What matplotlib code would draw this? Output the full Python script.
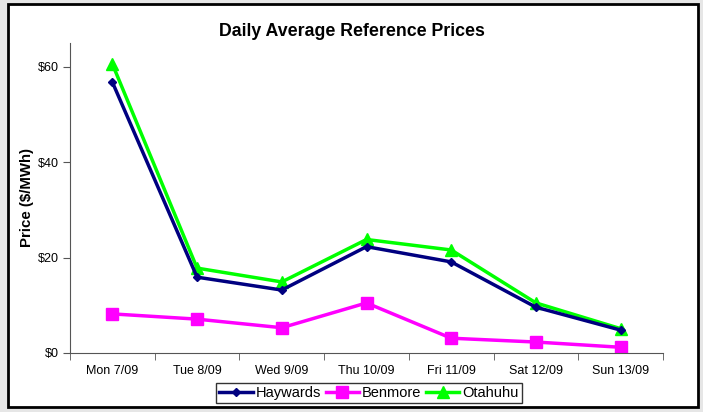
import matplotlib.pyplot as plt
from matplotlib.patches import Rectangle
from matplotlib.ticker import FuncFormatter

plt.rcParams['font.family'] = ['Liberation Sans', 'DejaVu Sans']

days = ['Mon 7/09', 'Tue 8/09', 'Wed 9/09', 'Thu 10/09', 'Fri 11/09', 'Sat 12/09', 'Sun 13/09']
haywards = [56.8, 15.9, 13.2, 22.3, 19.1, 9.6, 4.8]
benmore = [8.2, 7.1, 5.3, 10.5, 3.1, 2.3, 1.2]
otahuhu = [60.6, 17.8, 14.9, 23.8, 21.6, 10.5, 5.1]

W, H = 703, 412
fig = plt.figure(figsize=(W / 100, H / 100), dpi=100)
fig.patch.set_facecolor('#e6e6e6')

# white chart area with black border
fig.patches.append(Rectangle((8 / W, 1 - 407 / H), 690 / W, 403 / H,
                             transform=fig.transFigure, facecolor='white',
                             edgecolor='black', linewidth=2, zorder=-1))

ax = fig.add_axes([70 / W, 1 - 353 / H, 593 / W, 310 / H])
ax.set_zorder(2)
ax.set_facecolor('none')

x = range(len(days))
ax.plot(x, haywards, color='#000080', lw=2.5, marker='D', ms=4, label='Haywards', zorder=3)
ax.plot(x, benmore, color='#ff00ff', lw=2.5, marker='s', ms=9, label='Benmore', zorder=2)
ax.plot(x, otahuhu, color='#00ff00', lw=2.5, marker='^', ms=9, label='Otahuhu', zorder=2)

ax.set_xlim(-0.5, len(days) - 0.5)
ax.set_ylim(0, 65)
ax.set_yticks([0, 20, 40, 60])
ax.yaxis.set_major_formatter(FuncFormatter(lambda v, p: f'${v:.0f}'))
ax.set_xticks(x)
ax.set_xticklabels(days)
ax.set_xticks([i - 0.5 for i in range(len(days) + 1)], minor=True)
ax.tick_params(axis='x', which='major', length=0, pad=9, labelsize=9)
ax.tick_params(axis='x', which='minor', length=5, color='#555555')
ax.tick_params(axis='y', length=5, labelsize=9, color='#555555', pad=3)

for s in ['top', 'right']:
    ax.spines[s].set_visible(False)
for s in ['left', 'bottom']:
    ax.spines[s].set_color('#555555')

ax.set_ylabel('Price ($/MWh)', fontsize=10.8, fontweight='bold', labelpad=3)
fig.text(352 / W, 1 - 32 / H, 'Daily Average Reference Prices', ha='center', va='center',
         fontsize=12.8, fontweight='bold')

leg = fig.legend(loc='center', bbox_to_anchor=(369 / W, 1 - 393 / H), ncol=3,
                 frameon=True, fancybox=False, fontsize=10.5, handlelength=2.3,
                 handletextpad=0.2, columnspacing=0.3, borderpad=0.2, borderaxespad=0)
leg.get_frame().set_edgecolor('black')
leg.get_frame().set_linewidth(1)

fig.savefig('out.png', dpi=100, facecolor=fig.get_facecolor())
